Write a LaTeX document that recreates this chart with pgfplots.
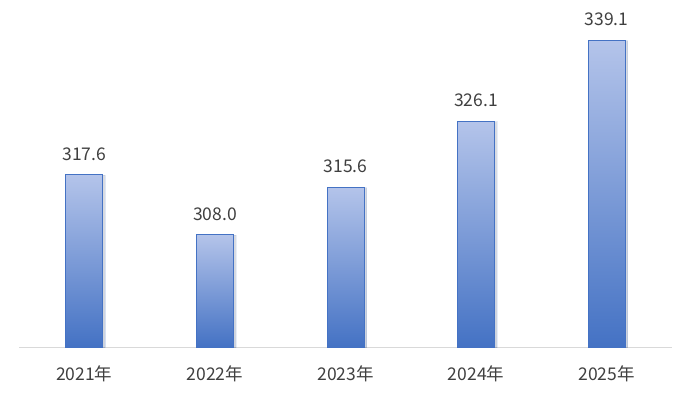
\documentclass[border=0pt]{standalone}
\usepackage{fontspec}
\setmainfont{Noto Sans CJK SC}
\usepackage{pgfplots}
\pgfplotsset{compat=1.18}
\usetikzlibrary{shadows}
\definecolor{barTop}{HTML}{B4C4EA}
\definecolor{barBot}{HTML}{4472C4}
\definecolor{txt}{HTML}{404040}
\definecolor{axisgray}{HTML}{D9D9D9}
\pgfplotsset{
  gradbar/.style={
    draw=barBot, line width=0.8pt,
    top color=barTop, bottom color=barBot,
    bar shift=0pt,
    drop shadow={shadow xshift=2.5pt, shadow yshift=-0.5pt, opacity=0.12, fill=black},
  },
}
\begin{document}
\begin{tikzpicture}
\path[use as bounding box] (-19pt,-47pt) rectangle (671pt,347pt);
\begin{axis}[
  at={(0,0)}, anchor=south west,
  scale only axis,
  width=653pt, height=347pt,
  xmin=-0.5, xmax=4.5,
  ymin=290, ymax=345.52,
  ybar, bar width=37pt,
  axis x line*=bottom,
  axis y line=none,
  x axis line style={draw=axisgray, line width=0.8pt, -},
  xtick={0,1,2,3,4},
  xticklabels={2021年,2022年,2023年,2024年,2025年},
  xtick style={draw=none},
  xticklabel style={font=\fontsize{17.5}{20}\selectfont, text=txt, yshift=-10.5pt},
  nodes near coords,
  nodes near coords style={font=\fontsize{17.5}{20}\selectfont, text=txt, anchor=south, yshift=10.5pt},
  /pgf/number format/.cd, fixed, fixed zerofill, precision=1, assume math mode=true,
]
% one plot per year so each bar carries its own gradient
\addplot[gradbar] coordinates {(0,317.6)};
\addplot[gradbar] coordinates {(1,308.0)};
\addplot[gradbar] coordinates {(2,315.6)};
\addplot[gradbar] coordinates {(3,326.1)};
\addplot[gradbar] coordinates {(4,339.1)};
\end{axis}
\end{tikzpicture}
\end{document}
